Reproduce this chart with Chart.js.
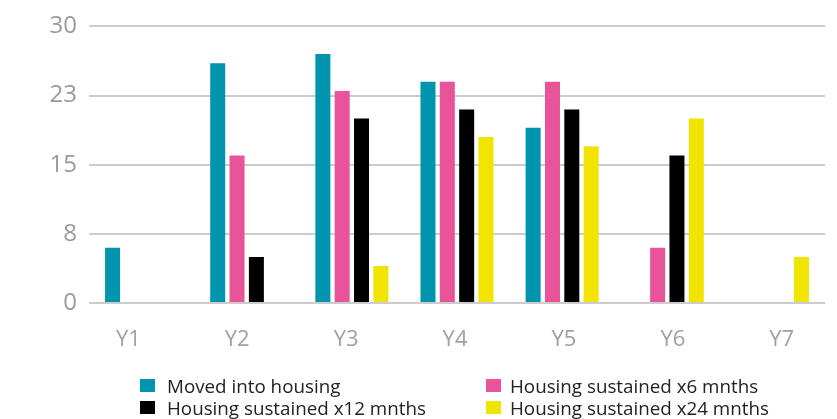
<!DOCTYPE html>
<html>
<head>
<meta charset="utf-8">
<script src="https://cdn.jsdelivr.net/npm/chart.js@4"></script>
<style>
  html, body { margin: 0; padding: 0; background: #fff; }
  #wrap { position: relative; width: 837px; height: 419px; }
  #c { position: absolute; left: 0; top: 0; }
  .lg { position: absolute; font-family: "Open Sans", sans-serif; font-size: 18.8px; color: #222; white-space: nowrap; line-height: 22px; }
  .lg .box { position: absolute; width: 15px; height: 13px; }
  .lg .txt { position: absolute; }
</style>
</head>
<body>
<div id="wrap">
  <canvas id="c" width="837" height="419"></canvas>
  <div id="legend"></div>
</div>
<script>
const categories = ["Y1", "Y2", "Y3", "Y4", "Y5", "Y6", "Y7"];
const seriesNames = ["Moved into housing", "Housing sustained x6 mnths", "Housing sustained x12 mnths", "Housing sustained x24 mnths"];
const movedIntoHousing = [6, 26, 27, 24, 19, null, null];
const sustained6 = [null, 16, 23, 24, 24, 6, null];
const sustained12 = [null, 5, 20, 21, 21, 16, null];
const sustained24 = [null, null, 4, 18, 17, 20, 5];
const yTicks = [0, 7.5, 15, 22.5, 30];
const colors = ["#0094ae", "#e85399", "#000000", "#f0e400"];

const seriesValues = [movedIntoHousing, sustained6, sustained12, sustained24];

const chart = new Chart(document.getElementById("c"), {
  type: "bar",
  data: {
    labels: categories,
    datasets: seriesValues.map((vals, i) => ({
      label: seriesNames[i],
      data: vals,
      backgroundColor: colors[i],
      borderWidth: 0,
      categoryPercentage: 0.7356,
      barPercentage: 0.776
    }))
  },
  options: {
    responsive: false,
    animation: false,
    layout: { padding: { top: 26, right: 12, bottom: 60, left: 0 } },
    plugins: { legend: { display: false }, tooltip: { enabled: false } },
    scales: {
      x: {
        display: false
      },
      // label axis: the reference's category labels sit on a slightly wider pitch than the bar groups
      xLabels: {
        type: "linear",
        position: "bottom",
        offset: false,
        bounds: "data",
        min: 0.639,
        max: 7.397,
        afterBuildTicks: s => { s.ticks = categories.map((c, i) => ({ value: i + 1 })); },
        grid: { display: false, offset: false },
        border: { display: false },
        ticks: {
          color: "#a0a0a0",
          padding: 16,
          maxRotation: 0,
          autoSkip: false,
          font: { family: "Open Sans", size: 22 },
          callback: v => categories[Math.round(v) - 1]
        },
        afterFit: s => { s.height = 56; }
      },
      y: {
        min: 0,
        max: 30,
        afterBuildTicks: s => { s.ticks = yTicks.map(v => ({ value: v })); },
        grid: { color: "#cccccc", lineWidth: 2, drawTicks: false },
        border: { display: false },
        ticks: {
          color: "#9a9a9a",
          padding: 12,
          font: { family: "Open Sans", size: 24 },
          callback: v => String(Math.round(v))
        },
        afterFit: s => { s.width = 89; }
      }
    }
  }
});

// HTML legend in two columns, built from the chart's datasets
const legendEl = document.getElementById("legend");
const colX = [140, 486];
const rowY = [375, 397];
chart.data.datasets.forEach((ds, i) => {
  const col = i % 2, row = Math.floor(i / 2);
  const item = document.createElement("div");
  item.className = "lg";
  item.style.left = colX[col] + "px";
  item.style.top = rowY[row] + "px";
  const box = document.createElement("span");
  box.className = "box";
  box.style.background = ds.backgroundColor;
  box.style.left = "0px";
  box.style.top = "4px";
  const txt = document.createElement("span");
  txt.className = "txt";
  txt.style.left = (col === 0 ? 27 : 24) + "px";
  txt.style.top = "0px";
  txt.textContent = ds.label;
  item.appendChild(box);
  item.appendChild(txt);
  legendEl.appendChild(item);
});
</script>
</body>
</html>
